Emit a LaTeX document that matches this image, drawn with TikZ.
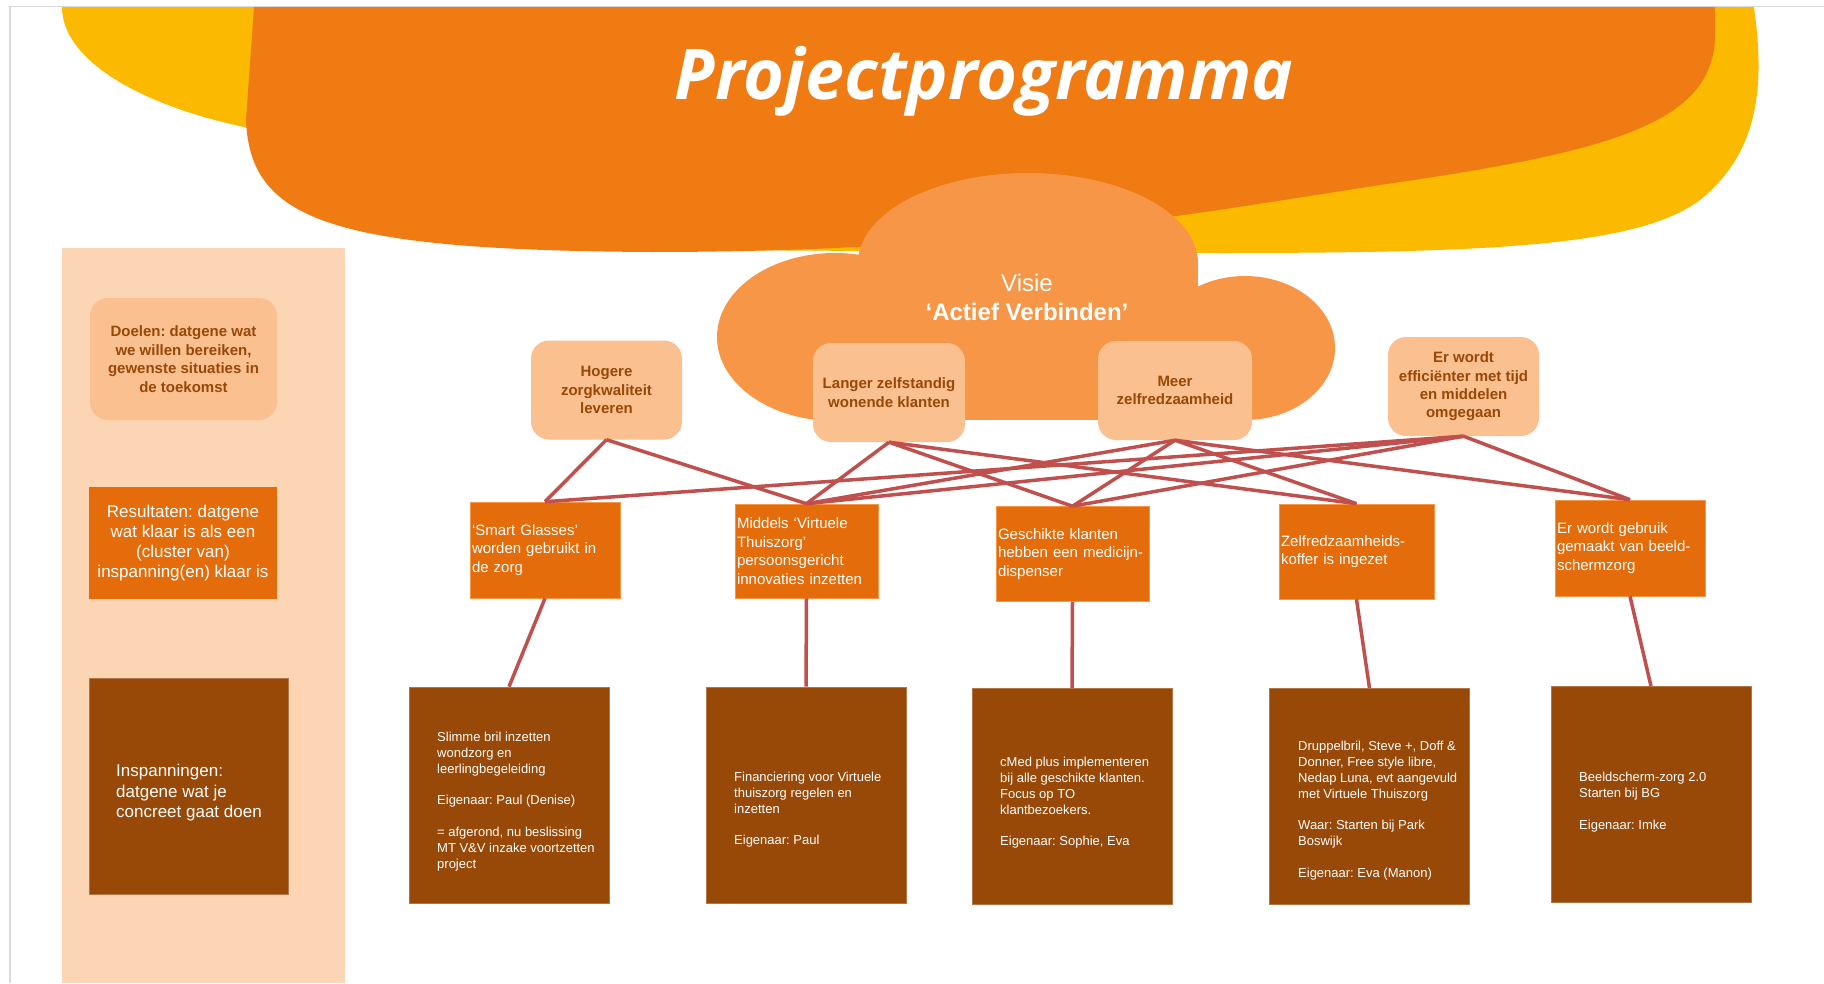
\documentclass[tikz,border=0pt]{standalone}
\usepackage{fontspec}
\setmainfont{Liberation Sans}
\newfontfamily\titlefont{Open Sans}
\usetikzlibrary{positioning}
\frenchspacing

\definecolor{sunyellow}{HTML}{FBBA00}
\definecolor{bandorange}{HTML}{F07B12}
\definecolor{cloudorange}{HTML}{F79646}
\definecolor{goalfill}{HTML}{FAC090}
\definecolor{goalbrown}{HTML}{984807}
\definecolor{panelfill}{HTML}{FCD5B5}
\definecolor{resultfill}{HTML}{E46C0A}
\definecolor{effortfill}{HTML}{984807}
\definecolor{linkred}{HTML}{C0504D}
\definecolor{framegray}{HTML}{D9D9D9}

\tikzset{
  goalbox/.style={fill=goalfill, text=goalbrown, rounded corners=18pt, minimum width=151pt, minimum height=99pt, align=center, inner sep=0pt, font=\fontsize{15}{18.4}\selectfont\bfseries},
  resultbox/.style={fill=resultfill, draw=cloudorange, line width=0.6pt, text=white, minimum height=96pt, inner xsep=2pt, inner ysep=0pt, align=left, font=\fontsize{15}{18.5}\selectfont},
  effortbox/.style={fill=effortfill, draw=effortfill!75!white, line width=0.6pt, minimum width=200pt, minimum height=216pt, inner sep=0pt},
  efforttext/.style={anchor=north west, text=white, align=left, inner sep=0pt, font=\fontsize{13}{15.8}\selectfont},
  goallink/.style={draw=linkred, line width=3.5pt},
}

\begin{document}
\begin{tikzpicture}[x=1pt,y=-1pt]

\useasboundingbox (0,0) rectangle (1824,983);
\fill[white] (0,0) rectangle (1824,983);
\draw[framegray, line width=1.5pt] (10,983) -- (10,6.5) -- (1824,6.5);

\fill[sunyellow] (62,7) -- (1754,7) .. controls (1764,80) and (1762,150) .. (1700,200) .. controls (1640,245) and (1500,253) .. (1221,253) -- (700,250) -- (244,127) .. controls (140,105) and (62,60) .. (62,7) -- cycle;
\fill[bandorange] (254,7) -- (1715,7) -- (1715,40) .. controls (1710,120) and (1620,150) .. (1400,182) .. controls (1200,212) and (1000,252) .. (650,252) .. controls (330,250) and (250,220) .. (246,120) -- cycle;
\node[text=white, anchor=base, inner sep=0pt, font=\titlefont\fontsize{70}{84}\selectfont\bfseries\itshape] (title) at (984,99) {Projectprogramma};

\fill[panelfill] (62,248) rectangle (345,983);

\fill[cloudorange] (1028,263) ellipse [x radius=170, y radius=90];
\fill[cloudorange] (858,263) rectangle (1198,420);
\fill[cloudorange] (835,337) ellipse [x radius=118, y radius=84];
\fill[cloudorange] (1245,348) ellipse [x radius=90, y radius=72];
\fill[cloudorange] (835,330) rectangle (1245,420);
\node[text=white, align=center, inner sep=0pt, font=\fontsize{24}{29}\selectfont] (vision) at (1027,297) {Visie\\\bfseries ‘Actief Verbinden’};

\node[goalbox, minimum width=187pt, minimum height=122pt, font=\fontsize{15}{18.5}\selectfont\bfseries] (goals) at (183.5,359) {Doelen: datgene wat\\we willen bereiken,\\gewenste situaties in\\de toekomst};
\node[fill=resultfill, text=white, minimum width=188pt, minimum height=112pt, align=center, inner sep=0pt, font=\fontsize{17}{20}\selectfont] (results) at (183,543) {Resultaten: datgene\\wat klaar is als een\\(cluster van)\\inspanning(en) klaar is};
\node[effortbox, minimum width=199pt] (efforts) at (188.5,786) {};
\node[efforttext, font=\fontsize{17}{20.7}\selectfont] (effortstxt) at (116,764) {Inspanningen:\\datgene wat je\\concreet gaat doen};

\node[goalbox] (g1) at (606.5,390) {Hogere\\zorgkwaliteit\\leveren};
\node[goalbox, minimum width=152pt] (g2) at (889,392.5) {Langer zelfstandig\\wonende klanten};
\node[goalbox, minimum width=154pt] (g3) at (1175,390.5) {Meer\\zelfredzaamheid};
\node[goalbox] (g4) at (1463.5,386.5) {Er wordt\\efficiënter met tijd\\en middelen\\omgegaan};

\node[resultbox, text width=146pt] (r1) at (545,550) {‘Smart Glasses’\\worden gebruikt in\\de zorg};
\node[resultbox, text width=139pt, minimum height=94pt] (r2) at (806.5,551) {Middels ‘Virtuele\\Thuiszorg’\\persoonsgericht\\innovaties inzetten};
\node[resultbox, text width=149pt, minimum height=95pt] (r3) at (1072.5,554) {Geschikte klanten\\hebben een medicijn-\\dispenser};
\node[resultbox, text width=151pt, minimum height=95pt] (r4) at (1356.5,551.5) {Zelfredzaamheids-\\koffer is ingezet};
\node[resultbox, text width=146pt] (r5) at (1630,548) {Er wordt gebruik\\gemaakt van beeld-\\schermzorg};

\draw[goallink] (g1.south) -- (r1.north);
\draw[goallink] (g1.south) -- (r2.north);
\draw[goallink] (g2.south) -- (r2.north);
\draw[goallink] (g2.south) -- (r3.north);
\draw[goallink] (g2.south) -- (r4.north);
\draw[goallink] (g3.south) -- (r2.north);
\draw[goallink] (g3.south) -- (r3.north);
\draw[goallink] (g3.south) -- (r4.north);
\draw[goallink] (g3.south) -- (r5.north);
\draw[goallink] (g4.south) -- (r1.north);
\draw[goallink] (g4.south) -- (r2.north);
\draw[goallink] (g4.south) -- (r3.north);
\draw[goallink] (g4.south) -- (r5.north);

\node[effortbox] (e1) at (509,795) {};
\node[effortbox] (e2) at (806,795) {};
\node[effortbox] (e3) at (1072,796.5) {};
\node[effortbox] (e4) at (1369.5,796.5) {};
\node[effortbox] (e5) at (1651,794.5) {};

\node[efforttext] (e1txt) at (437,732) {Slimme bril inzetten\\wondzorg en\\leerlingbegeleiding\\[15.8pt]Eigenaar: Paul (Denise)\\[15.8pt]= afgerond, nu beslissing\\MT V\&V inzake voortzetten\\project};
\node[efforttext] (e2txt) at (734,772) {Financiering voor Virtuele\\thuiszorg regelen en\\inzetten\\[15.8pt]Eigenaar: Paul};
\node[efforttext] (e3txt) at (1000,757) {cMed plus implementeren\\bij alle geschikte klanten.\\Focus op TO\\klantbezoekers.\\[15.8pt]Eigenaar: Sophie, Eva};
\node[efforttext] (e4txt) at (1298,741) {Druppelbril, Steve +, Doff \&\\Donner, Free style libre,\\Nedap Luna, evt aangevuld\\met Virtuele Thuiszorg\\[15.8pt]Waar: Starten bij Park\\Boswijk\\[15.8pt]Eigenaar: Eva (Manon)};
\node[efforttext] (e5txt) at (1579,772) {Beeldscherm-zorg 2.0\\Starten bij BG\\[15.8pt]Eigenaar: Imke};

\draw[goallink] (r1.south) -- (e1.north);
\draw[goallink] (r2.south) -- (e2.north);
\draw[goallink] (r3.south) -- (e3.north);
\draw[goallink] (r4.south) -- (e4.north);
\draw[goallink] (r5.south) -- (e5.north);

\end{tikzpicture}
\end{document}
